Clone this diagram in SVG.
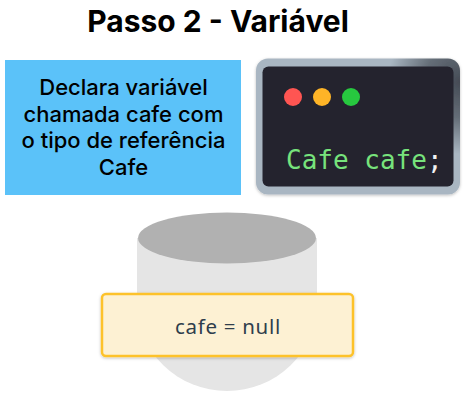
<svg xmlns="http://www.w3.org/2000/svg" width="474" height="403" viewBox="0 0 474 403">
<defs>
<radialGradient id="frame" gradientUnits="userSpaceOnUse" cx="460" cy="82" r="72"><stop offset="0" stop-color="#454b55"/><stop offset="0.5" stop-color="#656e78"/><stop offset="1" stop-color="#a9b6c2"/></radialGradient>
<filter id="sh" x="-10%" y="-10%" width="120%" height="125%"><feDropShadow dx="0" dy="1" stdDeviation="1.5" flood-color="#000" flood-opacity="0.25"/></filter>
</defs>
<style>
.t{font-family:Inter,"Liberation Sans",sans-serif;fill:#000;text-anchor:middle}
.d{font-size:22px;font-weight:500}
</style>
<rect width="474" height="403" fill="#fff"/>
<g id="title"><text class="t" x="218" y="32" font-size="30" font-weight="700">Passo 2 - Variável</text></g>
<g id="description">
<rect x="5" y="60" width="236" height="135" fill="#5bc2f9"/>
<text class="t d" x="123.500" y="95">Declara variável</text>
<text class="t d" x="123.500" y="122">chamada cafe com</text>
<text class="t d" x="123.500" y="148">o tipo de referência</text>
<text class="t d" x="123.500" y="175">Cafe</text>
</g>
<g id="terminal">
<rect x="256" y="58.500" width="204" height="136" rx="12" fill="url(#frame)" filter="url(#sh)"/>
<rect x="262.500" y="66.500" width="191" height="120" rx="6" fill="#24232e"/>
<circle cx="293" cy="97" r="9" fill="#ff5552"/>
<circle cx="322" cy="97" r="9" fill="#feb427"/>
<circle cx="351" cy="97" r="9" fill="#27c83f"/>
<text x="286" y="169" font-family="'DejaVu Sans Mono',monospace" font-size="26" fill="#77e37c">Cafe cafe<tspan fill="#f2f2f2">;</tspan></text>
</g>
<g id="cup">
<path d="M137 238V303A90 88 0 0 0 317 303V238Z" fill="#e5e5e5"/>
<ellipse cx="227" cy="238" rx="89" ry="25.500" fill="#b1b1b1"/>
</g>
<g id="value">
<rect x="102" y="294" width="251" height="62" rx="4" fill="#fdf1d3" stroke="#fdc22c" stroke-width="2.500" filter="url(#sh)"/>
<text x="228" y="334" font-family="'Noto Sans',sans-serif" font-size="20.500" letter-spacing="0.7" fill="#2f3e4c" text-anchor="middle">cafe = null</text>
</g>
</svg>
